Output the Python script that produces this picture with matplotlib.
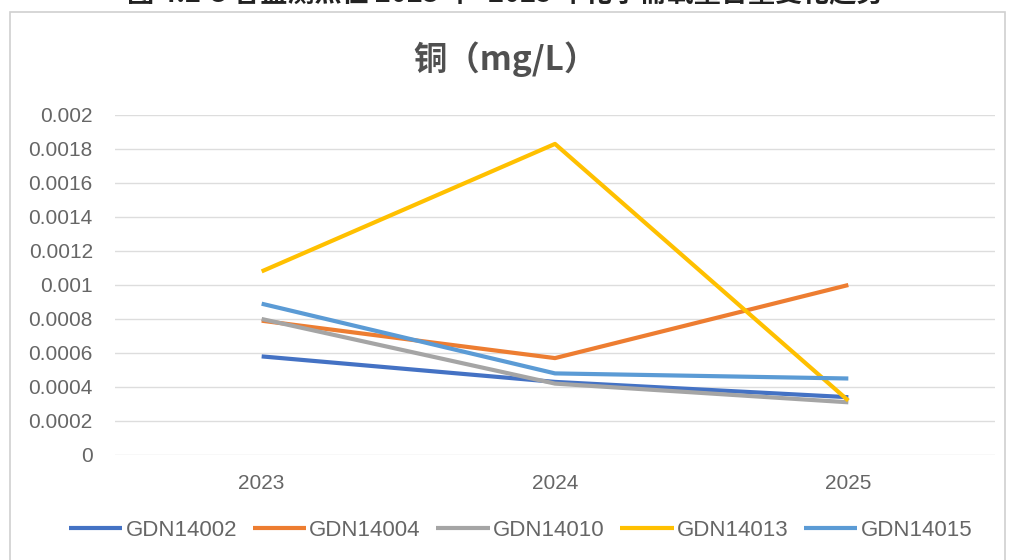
import matplotlib.pyplot as plt
from matplotlib.patches import Rectangle

plt.rcParams['font.family'] = ['Liberation Sans', 'Noto Sans CJK SC', 'DejaVu Sans']

years = ['2023', '2024', '2025']
gdn14002 = [0.00058, 0.00043, 0.00034]
gdn14004 = [0.00079, 0.00057, 0.00100]
gdn14010 = [0.00080, 0.00042, 0.00031]
gdn14013 = [0.00108, 0.00183, 0.00032]
gdn14015 = [0.00089, 0.00048, 0.00045]

series = [
    ('GDN14002', gdn14002, '#4472C4'),
    ('GDN14004', gdn14004, '#ED7D31'),
    ('GDN14010', gdn14010, '#A5A5A5'),
    ('GDN14013', gdn14013, '#FFC000'),
    ('GDN14015', gdn14015, '#5B9BD5'),
]
yticks = [0, 0.0002, 0.0004, 0.0006, 0.0008, 0.001, 0.0012, 0.0014, 0.0016, 0.0018, 0.002]
ytick_labels = ['0', '0.0002', '0.0004', '0.0006', '0.0008', '0.001', '0.0012',
                '0.0014', '0.0016', '0.0018', '0.002']

cjk = ['Noto Sans CJK SC', 'DejaVu Sans']

fig = plt.figure(figsize=(10.11, 5.6), dpi=100)
fig.patch.set_facecolor('white')

# chart frame
fig.patches.append(Rectangle((10 / 1011, -0.01), 995 / 1011, 1 - 12 / 560 + 0.01,
                             transform=fig.transFigure, fill=False,
                             edgecolor='#D0D0D0', linewidth=1.2))

# document caption above the chart, cut by the top edge
fig.text(0.5, 1 + 6 / 560, '图 4.2-3 各监测点位 2023 年~2025 年化学需氧量含量变化趋势',
         ha='center', va='center', fontsize=19.5, fontweight='bold', color='#222222',
         family=cjk)

ax = fig.add_axes([115 / 1011, 1 - 455 / 560, 880 / 1011, 340 / 560])
x = range(len(years))
for name, vals, color in series:
    ax.plot(x, vals, color=color, linewidth=3, label=name, solid_capstyle='butt')

ax.set_xlim(-0.5, 2.5)
ax.set_ylim(0, 0.002)
ax.set_xticks(list(x))
ax.set_xticklabels(years)
ax.set_yticks(yticks)
ax.set_yticklabels(ytick_labels)
ax.tick_params(axis='both', length=0, labelsize=15, colors='#666666')
ax.tick_params(axis='y', pad=16)
ax.tick_params(axis='x', pad=14)
ax.grid(axis='y', color='#DDDDDD', linewidth=1)
ax.set_axisbelow(True)
for s in ax.spines.values():
    s.set_visible(False)

fig.text(0.5, 1 - 59 / 560, '铜（mg/L）', ha='center', va='center',
         fontsize=24, fontweight='bold', color='#505050', family=cjk)

leg = fig.legend(loc='center', bbox_to_anchor=(0.515, 1 - 530 / 560), ncol=5,
                 frameon=False, fontsize=16, handlelength=2.4, handletextpad=0.15,
                 columnspacing=0.7)
for t in leg.get_texts():
    t.set_color('#666666')

fig.savefig('out.png', dpi=100)
